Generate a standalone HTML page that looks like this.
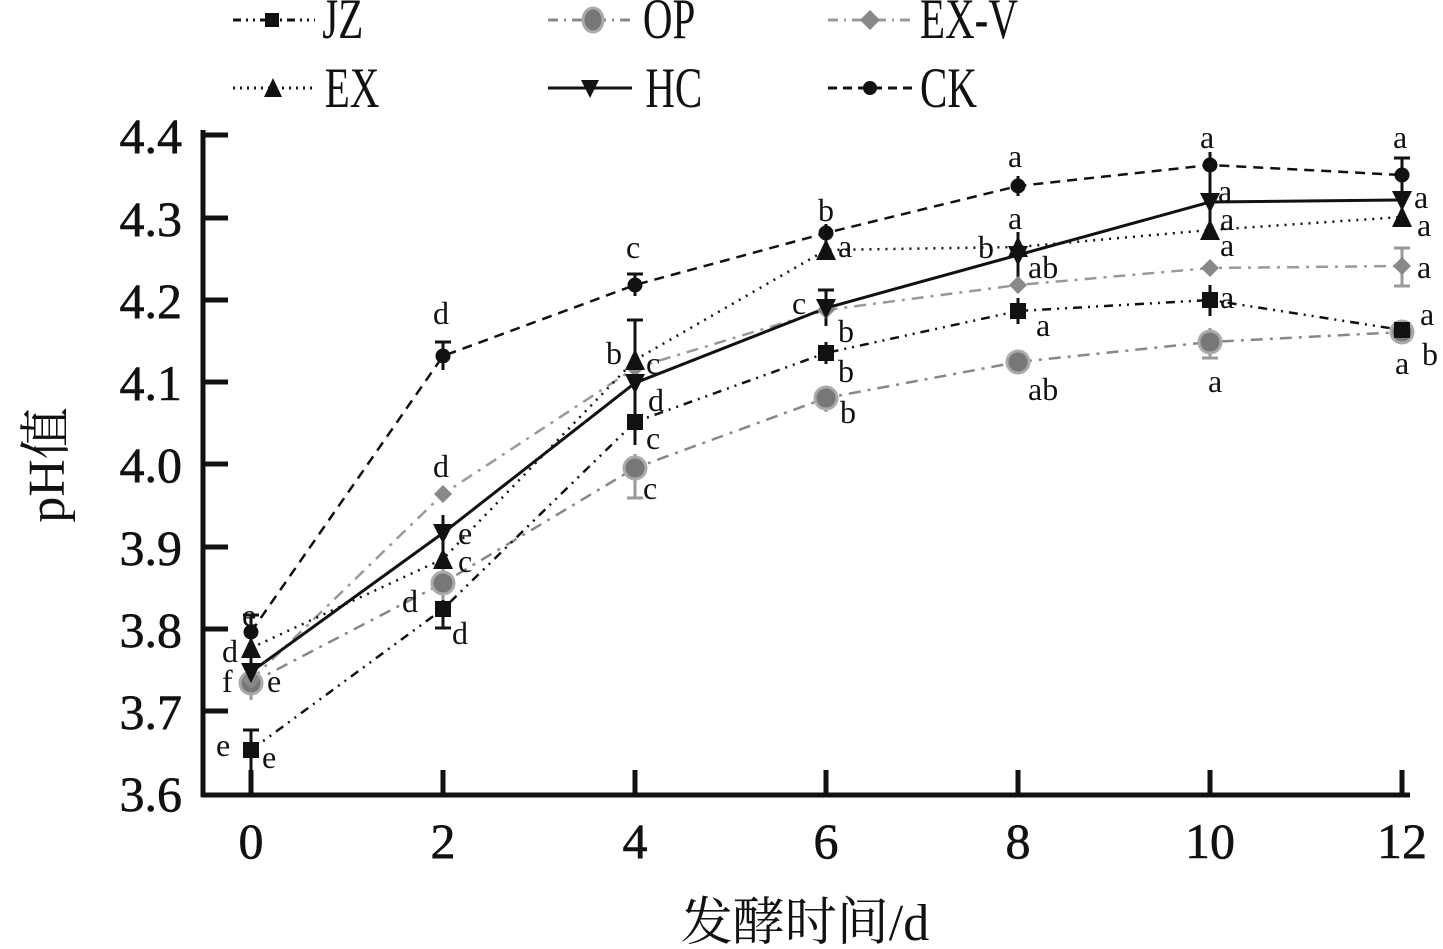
<!DOCTYPE html>
<html><head><meta charset="utf-8"><style>
html,body{margin:0;padding:0;background:#fff;}
svg{display:block;}
text{font-family:"Liberation Serif","Noto Serif CJK SC",serif;fill:#111;}
</style></head><body>
<svg width="1443" height="949" viewBox="0 0 1443 949" xmlns="http://www.w3.org/2000/svg">
<!-- legend -->
<g stroke-width="3" fill="none">
<line x1="233" y1="20" x2="315" y2="20" stroke="#111" stroke-dasharray="8,5,2,5,2,5"/>
<line x1="548" y1="20" x2="635" y2="20" stroke="#888" stroke-dasharray="10,6,2,6"/>
<line x1="828" y1="20" x2="912" y2="20" stroke="#999" stroke-dasharray="10,6,2,6"/>
<line x1="233" y1="88" x2="315" y2="88" stroke="#111" stroke-dasharray="2,5"/>
<line x1="548" y1="88" x2="632" y2="88" stroke="#111"/>
<line x1="828" y1="88" x2="912" y2="88" stroke="#111" stroke-dasharray="9,6"/>
</g>
<rect x="265" y="13" width="14" height="14" fill="#111"/>
<ellipse cx="593" cy="20" rx="10" ry="12" fill="#777" stroke="#aaa" stroke-width="3"/>
<polygon points="870,10 880,20 870,30 860,20" fill="#888"/>
<polygon points="273,78 282,97 264,97" fill="#111"/>
<polygon points="581,80 599,80 590,98" fill="#111"/>
<circle cx="870" cy="88" r="7" fill="#111"/>
<g font-size="50" transform="scale(0.82,1.15)">
<text x="393" y="33">JZ</text><text x="784" y="33">OP</text><text x="1122" y="33">EX-V</text>
<text x="396" y="93">EX</text><text x="787" y="93">HC</text><text x="1122" y="93">CK</text>
</g>
<!-- axes -->
<g stroke="#111" stroke-width="5">
<line x1="203" y1="130" x2="203" y2="797"/>
<line x1="201" y1="795" x2="1410" y2="795"/>
</g>
<g stroke="#111" stroke-width="5">
<line x1="203" y1="135" x2="228" y2="135"/><line x1="203" y1="218" x2="228" y2="218"/>
<line x1="203" y1="300" x2="228" y2="300"/><line x1="203" y1="382" x2="228" y2="382"/>
<line x1="203" y1="464" x2="228" y2="464"/><line x1="203" y1="547" x2="228" y2="547"/>
<line x1="203" y1="629" x2="228" y2="629"/><line x1="203" y1="711" x2="228" y2="711"/>
<line x1="251" y1="795" x2="251" y2="770"/><line x1="443" y1="795" x2="443" y2="770"/>
<line x1="635" y1="795" x2="635" y2="770"/><line x1="826" y1="795" x2="826" y2="770"/>
<line x1="1018" y1="795" x2="1018" y2="770"/><line x1="1210" y1="795" x2="1210" y2="770"/>
<line x1="1402" y1="795" x2="1402" y2="770"/>
</g>
<g font-size="50" text-anchor="end" stroke="#111" stroke-width="0.6">
<text x="182" y="153">4.4</text><text x="182" y="236">4.3</text><text x="182" y="318">4.2</text>
<text x="182" y="400">4.1</text><text x="182" y="482">4.0</text><text x="182" y="565">3.9</text>
<text x="182" y="647">3.8</text><text x="182" y="729">3.7</text><text x="182" y="811">3.6</text>
</g>
<g font-size="50" text-anchor="middle" stroke="#111" stroke-width="0.6">
<text x="251" y="858">0</text><text x="443" y="858">2</text><text x="635" y="858">4</text>
<text x="826" y="858">6</text><text x="1018" y="858">8</text><text x="1210" y="858">10</text><text x="1402" y="858">12</text>
</g>
<text x="805" y="940" font-size="52" text-anchor="middle">发酵时间/d</text>
<text transform="translate(64,465) rotate(-90)" font-size="52" text-anchor="middle">pH值</text>
<!-- series lines -->
<g fill="none" stroke-width="2.5">
<polyline stroke="#888" stroke-dasharray="12,7,3,7" points="251,683 443,583 635,468 826,398 1018,362 1210,342 1402,332"/>
<polyline stroke="#999" stroke-dasharray="12,7,3,7" points="251,680 443,494 635,368 826,310 1018,285 1210,268 1402,266"/>
<polyline stroke="#111" stroke-dasharray="9,6,2,6,2,6" points="251,750 443,609 635,422 826,353 1018,311 1210,300 1402,330"/>
<polyline stroke="#111" stroke-dasharray="2,6" points="251,648 443,559 635,360 826,250 1018,247 1210,230 1402,217"/>
<polyline stroke="#111" stroke-width="3" points="251,672 443,533 635,383 826,308 1018,255 1210,202 1402,200"/>
<polyline stroke="#111" stroke-dasharray="10,7" points="251,632 443,356 635,285 826,233 1018,186 1210,165 1402,175"/>
</g>
<!-- error bars -->
<g stroke="#111" stroke-width="3">
<path d="M251,615V650M243,615H259M443,342V370M435,342H451M635,274V296M627,274H643M826,224V242M1018,176V196M1210,152V178M1402,158V192M1394,158H1410"/>
<path d="M251,655V690M443,515V552M635,320V445M627,320H643M826,290V326M818,290H834M1018,232V278M1210,176V228M1402,186V214"/>
<path d="M251,730V775M243,730H259M443,592V628M435,628H451M635,404V440M826,342V364M1018,298V324M1210,285V316M1402,320V340"/>
</g>
<g stroke="#999" stroke-width="3">
<path d="M251,665V700M443,566V600M635,454V498M627,498H643M826,386V412M1018,352V372M1210,328V358M1202,358H1218M1402,248V286M1394,286H1410M1394,248H1410"/>
</g>
<!-- markers -->
<g fill="#777" stroke="#aaa" stroke-width="3">
<ellipse cx="251" cy="683" rx="11" ry="11"/><ellipse cx="443" cy="583" rx="11" ry="11"/><ellipse cx="635" cy="468" rx="11" ry="11"/>
<ellipse cx="826" cy="398" rx="11" ry="11"/><ellipse cx="1018" cy="362" rx="11" ry="11"/><ellipse cx="1210" cy="342" rx="11" ry="11"/><ellipse cx="1402" cy="332" rx="11" ry="11"/>
</g>
<g fill="#888">
<polygon points="251,671 260,680 251,689 242,680"/><polygon points="443,485 452,494 443,503 434,494"/>
<polygon points="635,359 644,368 635,377 626,368"/><polygon points="826,301 835,310 826,319 817,310"/>
<polygon points="1018,276 1027,285 1018,294 1009,285"/><polygon points="1210,259 1219,268 1210,277 1201,268"/>
<polygon points="1402,257 1411,266 1402,275 1393,266"/>
</g>
<g fill="#111">
<rect x="243" y="742" width="16" height="16"/><rect x="435" y="601" width="16" height="16"/><rect x="627" y="414" width="16" height="16"/>
<rect x="818" y="345" width="16" height="16"/><rect x="1010" y="303" width="16" height="16"/><rect x="1202" y="292" width="16" height="16"/><rect x="1394" y="322" width="16" height="16"/>
<polygon points="251,637 261,658 241,658"/><polygon points="443,548 453,569 433,569"/><polygon points="635,349 645,370 625,370"/>
<polygon points="826,239 836,260 816,260"/><polygon points="1018,236 1028,257 1008,257"/><polygon points="1210,219 1220,240 1200,240"/><polygon points="1402,206 1412,227 1392,227"/>
<polygon points="241,663 261,663 251,683"/><polygon points="433,524 453,524 443,544"/><polygon points="625,374 645,374 635,394"/>
<polygon points="816,299 836,299 826,319"/><polygon points="1008,246 1028,246 1018,266"/><polygon points="1200,193 1220,193 1210,213"/><polygon points="1392,191 1412,191 1402,211"/>
<circle cx="251" cy="632" r="7.5"/><circle cx="443" cy="356" r="7.5"/><circle cx="635" cy="285" r="7.5"/><circle cx="826" cy="233" r="7.5"/>
<circle cx="1018" cy="186" r="7.5"/><circle cx="1210" cy="165" r="7.5"/><circle cx="1402" cy="175" r="7.5"/>
</g>
<!-- significance letters -->
<g font-size="32">
<text x="242" y="626">e</text><text x="222" y="662">d</text><text x="222" y="692">f</text><text x="267" y="692">e</text>
<text x="216" y="756">e</text><text x="262" y="768">e</text>
<text x="433" y="324">d</text><text x="433" y="477">d</text><text x="458" y="544">e</text><text x="458" y="572">c</text>
<text x="402" y="612">d</text><text x="452" y="644">d</text>
<text x="626" y="258">c</text><text x="606" y="364">b</text><text x="646" y="374">c</text><text x="648" y="411">d</text>
<text x="646" y="449">c</text><text x="643" y="499">c</text>
<text x="818" y="221">b</text><text x="838" y="257">a</text><text x="792" y="314">c</text><text x="838" y="342">b</text>
<text x="838" y="382">b</text><text x="840" y="423">b</text>
<text x="1008" y="167">a</text><text x="1008" y="229">a</text><text x="978" y="258">b</text><text x="1028" y="278">ab</text>
<text x="1036" y="336">a</text><text x="1028" y="400">ab</text>
<text x="1200" y="148">a</text><text x="1218" y="202">a</text><text x="1220" y="230">a</text><text x="1220" y="256">a</text>
<text x="1220" y="308">a</text><text x="1208" y="392">a</text>
<text x="1393" y="148">a</text><text x="1414" y="208">a</text><text x="1417" y="236">a</text><text x="1417" y="278">a</text>
<text x="1420" y="325">a</text><text x="1395" y="374">a</text><text x="1422" y="365">b</text>
</g>
</svg>
</body></html>
